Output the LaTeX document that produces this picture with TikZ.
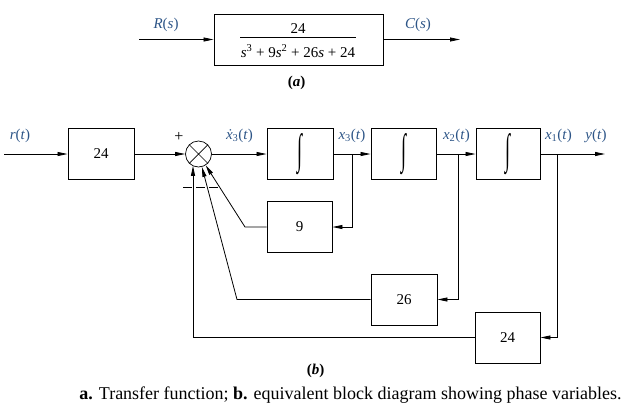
\documentclass[tikz,border=0pt]{standalone}
\usepackage{fontspec}
\usepackage{graphicx}
\setmainfont{Liberation Serif}
\usetikzlibrary{arrows.meta,calc}
\definecolor{lblue}{RGB}{45,85,135}
\newcommand{\bigint}{\resizebox{5pt}{30pt}{∫}}
\begin{document}
\begin{tikzpicture}[x=1pt,y=-1pt,
  blk/.style={draw,line width=0.9pt,minimum width=66pt,minimum height=51pt,inner sep=0pt,font=\fontsize{15}{17}\selectfont},
  sig/.style={text=lblue,inner sep=0pt,font=\fontsize{15}{17}\selectfont},
  conn/.style={line width=0.8pt},
  arr/.style={conn,-{Triangle[length=10pt,width=4pt]}},
]
\useasboundingbox (0,0) rectangle (631,413);
% ---------- (a)
\node[blk,minimum width=169pt] (tf) at (298.5,39.5) {};
\node[inner sep=0pt,font=\fontsize{15}{17}\selectfont] (num) at (298,29) {24};
\draw[line width=0.7pt] (240,37) -- (356,37);
\node[inner sep=0pt,font=\fontsize{15}{17}\selectfont] (den) at (298,51) {\textit{s}\textsuperscript{3} + 9\textit{s}\textsuperscript{2} + 26\textit{s} + 24};
\coordinate (ain) at (139,39.5);
\coordinate (aout) at (460,39.5);
\draw[arr] (ain) -- (tf.west);
\draw[arr] (tf.east) -- (aout);
\node[sig] (Rs) at (166,25) {\textit{R}(\textit{s})};
\node[sig] (Cs) at (418,25) {\textit{C}(\textit{s})};
\node[inner sep=0pt,font=\fontsize{15}{17}\selectfont\bfseries] (la) at (296.5,83) {(\textit{a})};
% ---------- (b)
\coordinate (rin) at (4,154);
\node[blk] (g) at (101,154) {24};
\node[draw,circle,minimum size=26pt,inner sep=0pt,line width=0.7pt] (sum) at (198.5,154) {};
\draw[line width=0.7pt] (sum.north west) -- (sum.south east) (sum.north east) -- (sum.south west);
\node[blk] (i1) at (300,154) {\bigint};
\node[blk,minimum width=65pt] (i2) at (403.5,154) {\bigint};
\node[blk,minimum width=64pt] (i3) at (508,154) {\bigint};
\coordinate (yout) at (605,154);
\node[blk,minimum width=65pt] (b9) at (299.5,227) {9};
\node[blk] (b26) at (404,299.5) {26};
\node[blk,minimum width=65pt] (b24) at (507.5,337.5) {24};
\draw[arr] (rin) -- (g);
\draw[arr] (g) -- (sum);
\draw[arr] (sum) -- (i1);
\draw[arr] (i1) -- (i2);
\draw[arr] (i2) -- (i3);
\draw[arr] (i3) -- (yout);
\coordinate (p3) at (352,154);
\coordinate (p2) at (458,154);
\coordinate (p1) at (557,154);
\draw[arr] (p3) |- (b9.east);
\draw[arr] (p2) |- (b26.east);
\draw[arr] (p1) |- (b24.east);
\coordinate (k9) at (245,227);
\coordinate (k26) at (237,299.5);
\coordinate (k24) at (193,337.5);
\coordinate (s24) at (193,165.8);
\draw[arr] (b9.west) -- (k9) -- (sum);
\draw[arr] (b26.west) -- (k26) -- (sum);
\draw[arr] (b24.west) -- (k24) -- (s24);
% signs
\node[inner sep=0pt,font=\fontsize{16}{18}\selectfont] (plus) at (179,137) {+};
\draw[line width=0.7pt,dash pattern=on 9pt off 4pt] (183,187.5) -- (218,187.5);
% labels
\node[sig] (lr) at (20,136) {\textit{r}(\textit{t})};
\node[sig] (lx3d) at (239.5,136) {\textit{ẋ}\textsubscript{3}(\textit{t})};
\node[sig] (lx3) at (352,136) {\textit{x}\textsubscript{3}(\textit{t})};
\node[sig] (lx2) at (456.5,136) {\textit{x}\textsubscript{2}(\textit{t})};
\node[sig] (lx1) at (558.5,136) {\textit{x}\textsubscript{1}(\textit{t})};
\node[sig] (ly) at (596,136) {\textit{y}(\textit{t})};
\node[inner sep=0pt,font=\fontsize{15}{17}\selectfont\bfseries] (lb) at (315.5,371) {(\textit{b})};
\node[inner sep=0pt,font=\fontsize{18}{21}\selectfont] (cap) at (350.5,395) {\textbf{a.} Transfer function; \textbf{b.} equivalent block diagram showing phase variables.};
\end{tikzpicture}
\end{document}
